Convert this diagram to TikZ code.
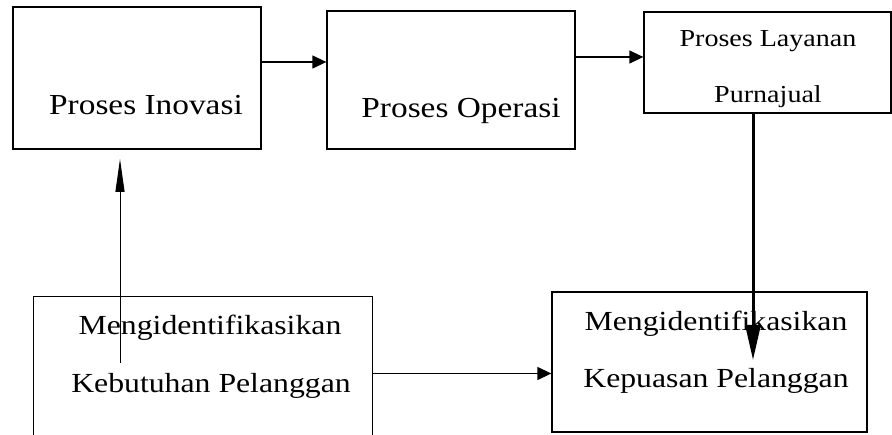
\documentclass[tikz,border=0pt]{standalone}
\usepackage{fontspec}
\setmainfont[FakeStretch=1.15]{Liberation Serif}
\usetikzlibrary{arrows.meta}
\tikzset{
  box/.style={draw=black, line width=1.3pt, rectangle, inner sep=0pt},
  thinbox/.style={draw=black, line width=1pt, rectangle, inner sep=0pt},
  bigtxt/.style={anchor=base, inner sep=0pt, font=\fontsize{29}{33}\selectfont},
  midtxt/.style={anchor=base, inner sep=0pt, font=\fontsize{27.6}{32}\selectfont},
  smalltxt/.style={anchor=base, inner sep=0pt, font=\fontsize{24.4}{28}\selectfont},
  arr/.style={line width=1.3pt, -{Triangle[length=14pt,width=13pt]}},
  thinarr/.style={line width=1pt, -{Triangle[length=33pt,width=9pt]}},
  thickarr/.style={line width=3pt, -{Triangle[length=35pt,width=15pt]}},
}
\begin{document}
\begin{tikzpicture}[x=1pt,y=-1pt]
\useasboundingbox (0,0) rectangle (892,435);
\clip (0,0) rectangle (892,435);
\fill[white] (0,0) rectangle (892,435);
% boxes
\node[box, minimum width=248pt, minimum height=142pt] (inov) at (137,78) {};
\node[box, minimum width=248pt, minimum height=138pt] (oper) at (451,80) {};
\node[box, minimum width=247pt, minimum height=101pt] (lay) at (767.5,62.5) {};
\node[thinbox, minimum width=339pt, minimum height=153pt] (keb) at (202.5,373.5) {};
\node[box, minimum width=315pt, minimum height=140pt] (kep) at (709.5,362) {};
% texts
\node[bigtxt] (inovt) at (146,115) {Proses Inovasi};
\node[bigtxt] (opert) at (461,118) {Proses Operasi};
\node[smalltxt] (layt1) at (768,47) {Proses Layanan};
\node[smalltxt] (layt2) at (768,103) {Purnajual};
\node[midtxt] (kebt1) at (210,335) {Mengidentifikasikan};
\node[midtxt] (kebt2) at (211,393) {Kebutuhan Pelanggan};
\node[midtxt] (kept1) at (716,331) {Mengidentifikasikan};
\node[midtxt] (kept2) at (716,388) {Kepuasan Pelanggan};
% connectors
\draw[arr] ([yshift=16pt]inov.east) coordinate (a1s) -- (a1s -| oper.west);
\draw[arr] ([yshift=23pt]oper.east) coordinate (a2s) -- (a2s -| lay.west);
\coordinate (a3e) at (753,360);
\draw[thickarr] (a3e |- lay.south) -- (a3e);
\coordinate (a4s) at (120,363);
\coordinate (a4e) at (120,159);
\draw[thinarr] (a4s) -- (a4e);
\draw[arr] (keb.east) -- (keb.east -| kep.west);
\end{tikzpicture}
\end{document}
